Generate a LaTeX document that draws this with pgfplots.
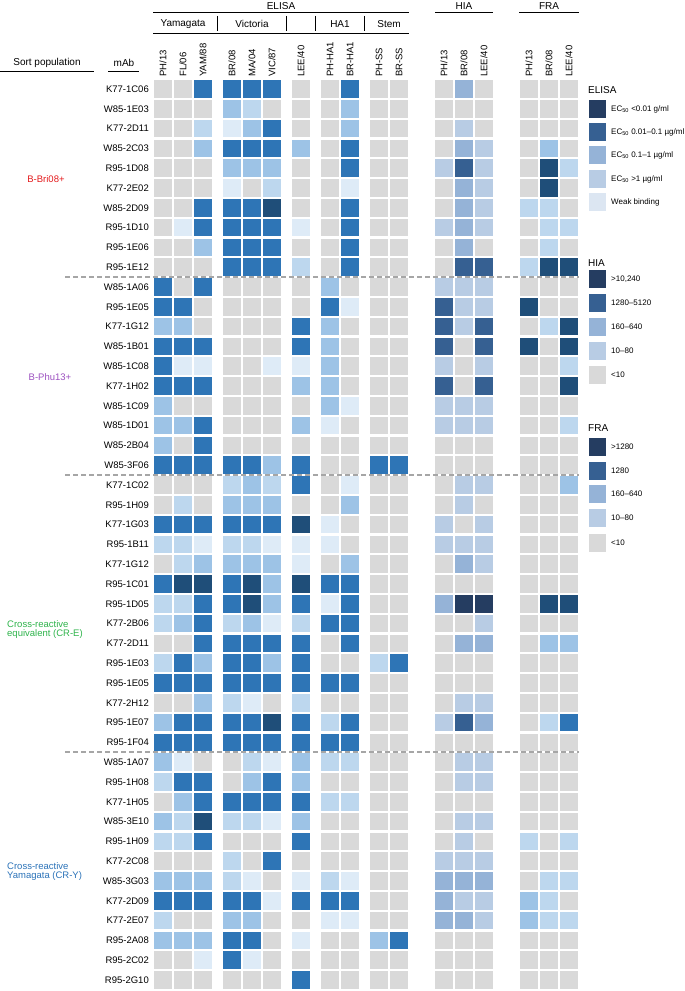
\documentclass[border=0pt]{standalone}
\usepackage{pgfplots}
\pgfplotsset{compat=1.18}
\usepackage{pgfplotstable}
\usepackage{fontspec}
\setmainfont{Liberation Sans}
\newcommand\fs[1]{\fontsize{#1bp}{#1bp}\selectfont}

\definecolor{g0}{HTML}{D9D9D9}
\definecolor{e1}{HTML}{DEEBF7}
\definecolor{e2}{HTML}{BDD7EE}
\definecolor{e3}{HTML}{9DC3E6}
\definecolor{e4}{HTML}{2E75B6}
\definecolor{e5}{HTML}{1F4E79}
\definecolor{h2}{HTML}{B8CCE4}
\definecolor{h3}{HTML}{95B3D7}
\definecolor{h4}{HTML}{366092}
\definecolor{h5}{HTML}{253D61}
\definecolor{l1}{HTML}{DCE6F2}
\definecolor{cred}{HTML}{E41A1C}
\definecolor{cpur}{HTML}{9B4FBF}
\definecolor{cgrn}{HTML}{2DB34A}
\definecolor{cblu}{HTML}{2A72B8}

\pgfdeclareplotmark{cell}{\pgfpathrectangle{\pgfqpoint{-8.8bp}{-8.8bp}}{\pgfqpoint{17.6bp}{17.6bp}}\pgfusepathqfill}

\pgfplotsset{
  elisa/.style={scatter, only marks, mark=cell, point meta=explicit symbolic,
    scatter/classes={0={fill=g0,draw=g0},1={fill=e1,draw=e1},2={fill=e2,draw=e2},3={fill=e3,draw=e3},4={fill=e4,draw=e4},5={fill=e5,draw=e5}}},
  hia/.style={scatter, only marks, mark=cell, point meta=explicit symbolic,
    scatter/classes={0={fill=g0,draw=g0},1={fill=l1,draw=l1},2={fill=h2,draw=h2},3={fill=h3,draw=h3},4={fill=h4,draw=h4},5={fill=h5,draw=h5}}},
  fra/.style={elisa},
}

% r = row, E1..E11 ELISA, H1..H3 HIA, F1..F3 FRA
% ELISA: 0 none, 1 weak, 2 >1, 3 0.1-1, 4 0.01-0.1, 5 <0.01 ; HIA/FRA: 0 <10, 2..5 increasing
\pgfplotstableread{
r mab E1 E2 E3 E4 E5 E6 E7 E8 E9 E10 E11 H1 H2 H3 F1 F2 F3
1 K77-1C06 0 0 4 4 4 4 0 0 4 0 0 0 3 0 0 0 0
2 W85-1E03 0 0 0 3 2 0 0 0 3 0 0 0 0 0 0 0 0
3 K77-2D11 0 0 2 1 3 4 0 0 3 0 0 0 2 0 0 0 0
4 W85-2C03 0 0 3 4 4 4 3 0 4 0 0 0 3 2 0 3 0
5 R95-1D08 0 0 0 3 3 3 0 0 4 0 0 2 4 2 0 5 2
6 K77-2E02 0 0 0 1 0 2 0 0 1 0 0 0 3 2 0 5 0
7 W85-2D09 0 0 4 4 4 5 0 0 4 0 0 0 3 2 2 2 0
8 R95-1D10 0 1 4 4 4 4 1 0 4 0 0 2 3 2 0 2 2
9 R95-1E06 0 0 3 4 4 4 0 0 4 0 0 0 3 0 0 2 0
10 R95-1E12 0 0 0 4 4 4 2 0 4 0 0 0 4 4 2 5 5
11 W85-1A06 4 0 4 0 0 0 0 3 0 0 0 2 2 2 0 0 0
12 R95-1E05 4 4 0 0 0 0 0 4 1 0 0 4 2 2 5 0 0
13 K77-1G12 3 3 0 0 0 0 4 3 0 0 0 4 2 4 0 2 5
14 W85-1B01 4 4 4 0 0 0 4 3 0 0 0 4 0 4 5 0 5
15 W85-1C08 4 1 1 0 0 1 1 3 0 0 0 2 0 2 0 0 2
16 K77-1H02 4 4 4 0 0 0 3 3 0 0 0 4 0 4 0 0 5
17 W85-1C09 3 0 0 0 0 0 0 3 1 0 0 2 2 2 0 0 0
18 W85-1D01 3 3 4 0 0 0 3 1 0 0 0 2 2 2 0 0 2
19 W85-2B04 3 0 4 0 0 0 0 0 0 0 0 0 0 0 0 0 0
20 W85-3F06 4 4 4 4 4 3 4 0 0 4 4 0 0 0 0 0 0
21 K77-1C02 0 0 0 2 3 2 4 0 1 0 0 0 2 2 0 0 3
22 R95-1H09 0 2 0 3 3 3 0 0 3 0 0 0 2 0 0 0 0
23 K77-1G03 4 4 4 4 4 4 5 1 0 0 0 2 0 2 0 0 0
24 R95-1B11 2 2 1 2 2 1 1 1 0 0 0 2 2 2 0 0 0
25 K77-1G12 0 2 3 3 3 3 1 0 3 0 0 0 3 2 0 0 0
26 R95-1C01 4 5 5 4 5 3 5 4 4 0 0 0 0 0 0 0 0
27 R95-1D05 2 2 4 4 5 3 4 1 4 0 0 3 5 5 0 5 5
28 K77-2B06 2 3 4 2 3 1 2 4 4 0 0 0 0 2 0 0 0
29 K77-2D11 0 0 4 4 4 4 4 0 4 0 0 0 3 3 0 3 3
30 R95-1E03 2 4 3 4 4 3 4 0 0 2 4 0 0 0 0 0 0
31 R95-1E05 4 4 4 4 4 4 4 4 4 0 0 0 0 0 0 0 0
32 K77-2H12 0 0 3 2 1 0 2 0 0 0 0 0 2 2 0 0 0
33 R95-1E07 3 4 4 4 4 5 4 2 4 0 0 2 4 3 0 2 4
34 R95-1F04 4 4 4 4 4 4 4 4 4 0 0 0 0 0 0 0 0
35 W85-1A07 3 1 0 0 2 1 3 2 2 0 0 0 2 2 0 0 0
36 R95-1H08 2 4 4 0 3 4 3 0 0 0 0 0 2 2 0 0 0
37 K77-1H05 0 3 4 4 4 4 4 2 2 0 0 0 0 0 0 0 0
38 W85-3E10 3 2 5 2 2 1 3 0 0 0 0 0 2 2 0 0 0
39 R95-1H09 2 2 4 0 0 0 4 0 0 0 0 0 2 0 2 0 2
40 K77-2C08 0 0 0 2 0 4 0 0 0 0 0 2 2 2 0 0 0
41 W85-3G03 3 3 3 2 1 0 1 2 1 0 0 3 3 3 0 2 2
42 K77-2D09 4 4 4 4 4 1 4 4 4 0 0 3 2 2 3 2 0
43 K77-2E07 2 0 0 3 3 0 0 1 1 0 0 3 3 2 3 2 2
44 R95-2A08 3 3 3 4 4 0 1 0 0 3 4 0 0 0 0 0 0
45 R95-2C02 0 0 1 4 1 0 0 0 0 0 0 0 0 0 0 0 0
46 R95-2G10 0 0 0 0 0 0 4 0 0 0 0 0 0 0 0 0 0
}\data

\begin{document}
\begin{tikzpicture}
\begin{axis}[
  at={(0,0)}, anchor=south west,
  scale only axis, width=685bp, height=991bp,
  xmin=0, xmax=685, ymin=0, ymax=991, y dir=reverse,
  hide axis, clip=false,
]
% heatmap cells
\addplot[elisa] table[x expr=163, y expr={89+(\thisrow{r}-1)*19.8}, meta=E1] {\data};
\addplot[elisa] table[x expr=183, y expr={89+(\thisrow{r}-1)*19.8}, meta=E2] {\data};
\addplot[elisa] table[x expr=203, y expr={89+(\thisrow{r}-1)*19.8}, meta=E3] {\data};
\addplot[elisa] table[x expr=232, y expr={89+(\thisrow{r}-1)*19.8}, meta=E4] {\data};
\addplot[elisa] table[x expr=252, y expr={89+(\thisrow{r}-1)*19.8}, meta=E5] {\data};
\addplot[elisa] table[x expr=272, y expr={89+(\thisrow{r}-1)*19.8}, meta=E6] {\data};
\addplot[elisa] table[x expr=301, y expr={89+(\thisrow{r}-1)*19.8}, meta=E7] {\data};
\addplot[elisa] table[x expr=330, y expr={89+(\thisrow{r}-1)*19.8}, meta=E8] {\data};
\addplot[elisa] table[x expr=350, y expr={89+(\thisrow{r}-1)*19.8}, meta=E9] {\data};
\addplot[elisa] table[x expr=379, y expr={89+(\thisrow{r}-1)*19.8}, meta=E10] {\data};
\addplot[elisa] table[x expr=399, y expr={89+(\thisrow{r}-1)*19.8}, meta=E11] {\data};
\addplot[hia] table[x expr=444, y expr={89+(\thisrow{r}-1)*19.8}, meta=H1] {\data};
\addplot[hia] table[x expr=464, y expr={89+(\thisrow{r}-1)*19.8}, meta=H2] {\data};
\addplot[hia] table[x expr=484, y expr={89+(\thisrow{r}-1)*19.8}, meta=H3] {\data};
\addplot[fra] table[x expr=529, y expr={89+(\thisrow{r}-1)*19.8}, meta=F1] {\data};
\addplot[fra] table[x expr=549, y expr={89+(\thisrow{r}-1)*19.8}, meta=F2] {\data};
\addplot[fra] table[x expr=569, y expr={89+(\thisrow{r}-1)*19.8}, meta=F3] {\data};
% mAb labels
\addplot[draw=none, mark=none, point meta=explicit symbolic,
  nodes near coords={\pgfplotspointmeta},
  every node near coord/.append style={anchor=east, font=\fs{9.5}, inner sep=0pt}]
  table[x expr=149, y expr={89+(\thisrow{r}-1)*19.8}, meta=mab] {\data};
% legend swatches
\addplot[hia] coordinates {(597.5,109) [5] (597.5,132) [4] (597.5,155) [3] (597.5,179) [2] (597.5,202) [1]};
\addplot[hia] coordinates {(597.5,279) [5] (597.5,303) [4] (597.5,327) [3] (597.5,351) [2] (597.5,375) [0]};
\addplot[hia] coordinates {(597.5,447) [5] (597.5,471) [4] (597.5,494) [3] (597.5,518) [2] (597.5,543) [0]};

% separators
\draw[black!35, line width=1.3bp, dash pattern=on 5bp off 3bp] (axis cs:65,277) -- (axis cs:579,277);
\draw[black!35, line width=1.3bp, dash pattern=on 5bp off 3bp] (axis cs:65,475) -- (axis cs:579,475);
\draw[black!35, line width=1.3bp, dash pattern=on 5bp off 3bp] (axis cs:65,752) -- (axis cs:579,752);

% header
\begin{scope}[every node/.style={inner sep=0pt, font=\fs{10}}]
\node at (axis cs:281,6) {ELISA};
\node at (axis cs:464,6) {HIA};
\node at (axis cs:549,6) {FRA};
\draw[line width=0.8bp] (axis cs:153,12.5) -- (axis cs:409,12.5);
\draw[line width=0.8bp] (axis cs:435,12.5) -- (axis cs:493,12.5);
\draw[line width=0.8bp] (axis cs:519,12.5) -- (axis cs:579,12.5);
\node at (axis cs:183,24) {Yamagata};
\node at (axis cs:252,24) {Victoria};
\node at (axis cs:340,24) {HA1};
\node at (axis cs:389,24) {Stem};
\draw[line width=0.8bp] (axis cs:217.5,16) -- (axis cs:217.5,31);
\draw[line width=0.8bp] (axis cs:286.5,16) -- (axis cs:286.5,31);
\draw[line width=0.8bp] (axis cs:315.5,16) -- (axis cs:315.5,31);
\draw[line width=0.8bp] (axis cs:364.5,16) -- (axis cs:364.5,31);
\draw[line width=0.8bp] (axis cs:153,33) -- (axis cs:409,33);
\node at (axis cs:47,63) {Sort population};
\draw[line width=0.8bp] (axis cs:0,71) -- (axis cs:94,71);
\node at (axis cs:124,63) {mAb};
\draw[line width=0.8bp] (axis cs:108,71) -- (axis cs:139,71);
\end{scope}
\begin{scope}[every node/.style={inner sep=0pt, font=\fs{9.5}, rotate=90, anchor=west}]
\node at (axis cs:163,77) {PH/13};
\node at (axis cs:183,77) {FL/06};
\node at (axis cs:203,77) {YAM/88};
\node at (axis cs:232,77) {BR/08};
\node at (axis cs:252,77) {MA/04};
\node at (axis cs:272,77) {VIC/87};
\node at (axis cs:301,77) {LEE/40};
\node at (axis cs:330,77) {PH-HA1};
\node at (axis cs:350,77) {BR-HA1};
\node at (axis cs:379,77) {PH-SS};
\node at (axis cs:399,77) {BR-SS};
\node at (axis cs:444,77) {PH/13};
\node at (axis cs:464,77) {BR/08};
\node at (axis cs:484,77) {LEE/40};
\node at (axis cs:529,77) {PH/13};
\node at (axis cs:549,77) {BR/08};
\node at (axis cs:569,77) {LEE/40};
\end{scope}

% group labels
\begin{scope}[every node/.style={inner sep=0pt, font=\fs{9.5}}]
\node[text=cred] at (axis cs:46,179) {B-Bri08+};
\node[text=cpur] at (axis cs:50,377) {B-Phu13+};
\node[text=cgrn, anchor=west, align=left] at (axis cs:7,629.5) {Cross-reactive\\[-0.5bp]equivalent (CR-E)};
\node[text=cblu, anchor=west, align=left] at (axis cs:7,871.5) {Cross-reactive\\[-0.5bp]Yamagata (CR-Y)};
\end{scope}

% legend text
\begin{scope}[every node/.style={inner sep=0pt, anchor=west, font=\fs{8}}]
\node[font=\fs{10}] at (axis cs:588,90) {ELISA};
\node at (axis cs:611,109) {EC\textsubscript{50} <0.01 g/ml};
\node at (axis cs:611,132) {EC\textsubscript{50} 0.01–0.1 µg/ml};
\node at (axis cs:611,155) {EC\textsubscript{50} 0.1–1 µg/ml};
\node at (axis cs:611,179) {EC\textsubscript{50} >1 µg/ml};
\node at (axis cs:611,202) {Weak binding};
\node[font=\fs{10}] at (axis cs:588,263) {HIA};
\node at (axis cs:611,279) {>10,240};
\node at (axis cs:611,303) {1280–5120};
\node at (axis cs:611,327) {160–640};
\node at (axis cs:611,351) {10–80};
\node at (axis cs:611,375) {<10};
\node[font=\fs{10}] at (axis cs:588,428) {FRA};
\node at (axis cs:611,447) {>1280};
\node at (axis cs:611,471) {1280};
\node at (axis cs:611,494) {160–640};
\node at (axis cs:611,518) {10–80};
\node at (axis cs:611,543) {<10};
\end{scope}
\end{axis}
\pgfresetboundingbox
\path[use as bounding box] (0,0) rectangle (685bp,991bp);
\end{tikzpicture}
\end{document}
